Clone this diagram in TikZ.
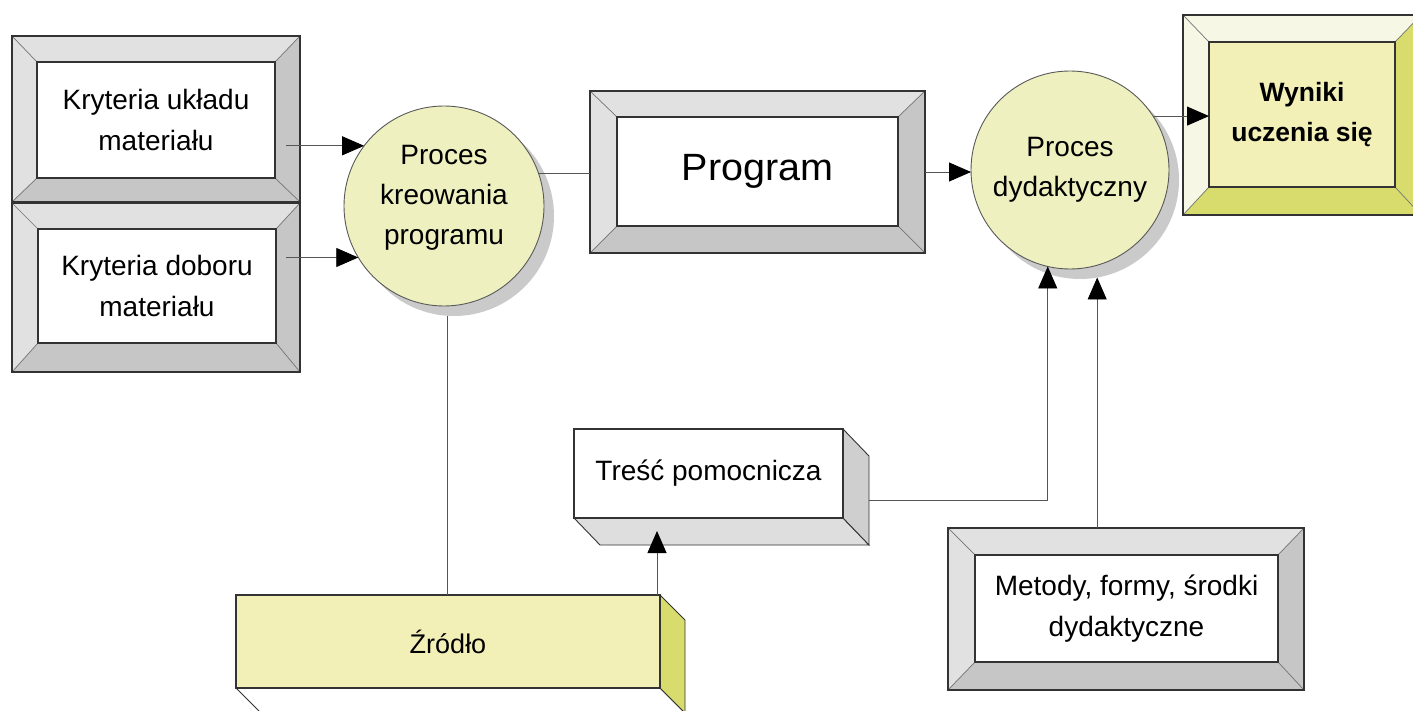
\documentclass[tikz,border=0pt]{standalone}
\usepackage{fontspec}
\setmainfont{Liberation Sans}
\usepackage{graphicx}
\usetikzlibrary{arrows.meta,calc}

\definecolor{bevlight}{HTML}{E1E1E1}
\definecolor{bevdark}{HTML}{C6C6C6}
\definecolor{bubblefill}{HTML}{EEF0BF}
\definecolor{limeface}{HTML}{F3F0B7}
\definecolor{limedark}{HTML}{D7DC6C}
\definecolor{limelight}{HTML}{F7F7E6}
\definecolor{shade}{HTML}{CACACA}
\definecolor{wirecol}{HTML}{555555}
\definecolor{slabside}{HTML}{CFCFCF}
\definecolor{slabbottom}{HTML}{DEDEDE}

% bevelled frame between an outer node #1 and an inner node #2
\newcommand\bevelframe[4]{%
  \fill[#3] (#1.north west) -- (#1.north east) -- (#2.north east) -- (#2.north west) -- cycle;
  \fill[#3] (#1.north west) -- (#2.north west) -- (#2.south west) -- (#1.south west) -- cycle;
  \fill[#4] (#1.north east) -- (#1.south east) -- (#2.south east) -- (#2.north east) -- cycle;
  \fill[#4] (#1.south west) -- (#2.south west) -- (#2.south east) -- (#1.south east) -- cycle;
  \draw[bevedge] (#1.north west) -- (#2.north west) (#1.north east) -- (#2.north east)
                 (#1.south west) -- (#2.south west) (#1.south east) -- (#2.south east);
  \draw[rim] (#1.north west) rectangle (#1.south east);
  \draw[rim, line width=1.4pt] (#2.north west) rectangle (#2.south east);
}

% side and bottom faces of a block whose front face is node #1
\newcommand\slabsides[5]{%
  \filldraw[fill=#5, rim, line width=0.9pt] (#1.south west) -- ([shift={(#2,#3)}]#1.south west)
     -- ([shift={(#2,#3)}]#1.south east) -- (#1.south east) -- cycle;
  \filldraw[fill=#4, rim, line width=0.9pt] (#1.north east) -- ([shift={(#2,#3)}]#1.north east)
     -- ([shift={(#2,#3)}]#1.south east) -- (#1.south east) -- cycle;
  \draw[rim, line width=1.2pt] (#1.north west) rectangle (#1.south east);
}

\tikzset{
  frame/.style={rectangle, inner sep=0pt, outer sep=0pt},
  face/.style={rectangle, fill=white, inner sep=0pt, outer sep=0pt, align=center,
               font=\fontsize{28}{41}\selectfont},
  bevedge/.style={draw=black!55, line width=0.7pt},
  rim/.style={draw=black!80, line width=1.1pt},
  bubble/.style={circle, draw=black!65, line width=0.9pt, fill=bubblefill, inner sep=0pt, outer sep=0pt},
  bubbleshade/.style={circle, fill=shade, inner sep=0pt, outer sep=0pt},
  bubbletext/.style={align=center, inner sep=0pt, font=\fontsize{28}{40}\selectfont},
  wire/.style={draw=wirecol, line width=0.9pt},
  arr/.style={wire, -{Triangle[length=22pt,width=19pt,color=black]}},
}

\begin{document}
\begin{tikzpicture}[x=1pt,y=-1pt]
\useasboundingbox (0,0) rectangle (1413,711);
\clip (0,0) rectangle (1413,711);
\fill[white] (0,0) rectangle (1413,711);

% criteria frames
\node[frame, minimum width=288pt, minimum height=166pt] (k1o) at (156,119) {};
\node[face, minimum width=238pt, minimum height=116pt] (k1) at (156,120) {Kryteria układu\\materiału};
\bevelframe{k1o}{k1}{bevlight}{bevdark}

\node[frame, minimum width=288pt, minimum height=169pt] (k2o) at (156,287.5) {};
\node[face, minimum width=238pt, minimum height=114pt] (k2) at (157,286) {Kryteria doboru\\materiału};
\bevelframe{k2o}{k2}{bevlight}{bevdark}

% programme frame
\node[frame, minimum width=335pt, minimum height=162pt] (pgo) at (757.5,172) {};
\node[face, minimum width=281pt, minimum height=109pt, font=\fontsize{38}{44}\selectfont] (pg) at (757.5,171.5) {\scalebox{1.04}[1]{Program}};
\bevelframe{pgo}{pg}{bevlight}{bevdark}

% learning outcomes frame
\node[frame, minimum width=238pt, minimum height=200pt] (wyo) at (1302,115) {};
\node[face, fill=limeface, minimum width=186pt, minimum height=145pt, font=\fontsize{26.5}{40}\selectfont\bfseries] (wy) at (1302,114.5) {Wyniki\\uczenia się};
\bevelframe{wyo}{wy}{limelight}{limedark}

% methods frame
\node[frame, minimum width=356pt, minimum height=162pt] (mo) at (1126,609) {};
\node[face, minimum width=303pt, minimum height=107pt] (mi) at (1126.5,608.5) {Metody, formy, środki\\dydaktyczne};
\bevelframe{mo}{mi}{bevlight}{bevdark}

% blocks
\node[face, minimum width=269pt, minimum height=89pt] (tp) at (708.5,473.5) {Treść pomocnicza};
\slabsides{tp}{26}{27}{slabside}{slabbottom}

\node[face, fill=limeface, minimum width=424pt, minimum height=93pt, font=\fontsize{27}{40}\selectfont] (zr) at (448,641.5) {Źródło};
\slabsides{zr}{25}{25}{limedark}{white}

% process circles with their shadows
\node[bubbleshade, minimum size=200pt] (p1s) at (454,216) {};
\node[bubble, minimum size=200pt] (p1) at (444,206) {};
\node[bubbletext] (p1t) at ([yshift=8pt]p1) {Proces\\kreowania\\programu};

\node[bubbleshade, minimum size=198pt] (p2s) at (1080,180) {};
\node[bubble, minimum size=198pt] (p2) at (1070,170) {};
\node[bubbletext] (p2t) at (p2) {Proces\\dydaktyczny};

% connectors
\coordinate (k1s) at ([xshift=-14pt]k1o.east);
\coordinate (k2s) at ([xshift=-14pt]k2o.east);
\draw[arr] (k1s |- p1.143.8) -- (p1.143.8);
\draw[arr] (k2s |- p1.211.3) -- (p1.211.3);
\draw[wire] (p1.19.9) -- (p1.19.9 -| pgo.west);
\draw[arr] (pgo.east) -- (pgo.east -| p2.west);
\draw[arr] (p2.33.75) -- (p2.33.75 -| wy.west);

\coordinate (tpr) at ([shift={(26,27)}]tp.east);
\draw[arr] (tpr) -| (p2.257.2);
\draw[arr] (p2s.280.5 |- mo.north) -- (p2s.280.5);

\draw[wire] (p1s.266.6) -- (p1s.266.6 |- zr.north);
\coordinate (tpb) at ([shift={(-51.5,13)}]tp.south);
\draw[arr] (tpb |- zr.north) -- (tpb);
\end{tikzpicture}
\end{document}
